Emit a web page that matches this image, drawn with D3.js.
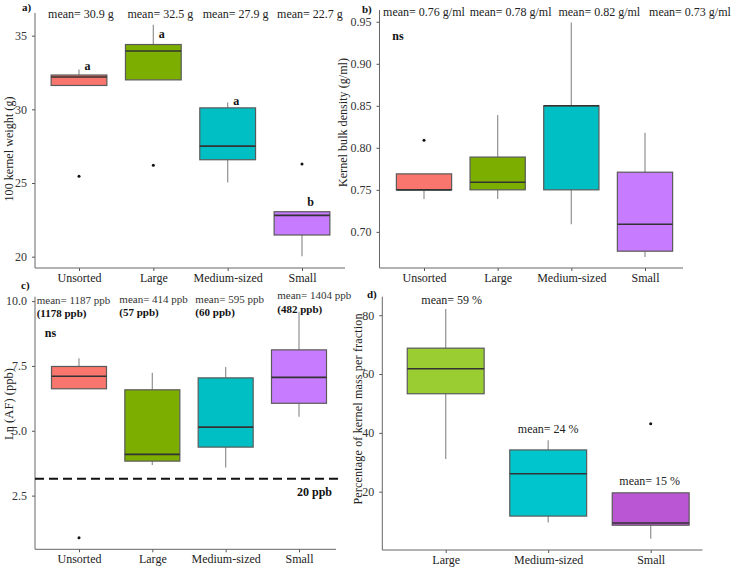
<!DOCTYPE html>
<html>
<head>
<meta charset="utf-8">
<script src="https://cdn.jsdelivr.net/npm/d3@7"></script>
<style>
  html, body { margin: 0; padding: 0; background: #fff; }
  svg { display: block; font-family: "Liberation Serif", "Times New Roman", serif; }
</style>
</head>
<body>
<svg id="chart" width="740" height="568"></svg>
<script>
// ---------------- DATA ----------------
const categories = ["Unsorted", "Large", "Medium-sized", "Small"];
const categoriesD = ["Large", "Medium-sized", "Small"];

// a) 100 kernel weight (g)
const weightLow  = [31.62, 32.00, 25.04, 20.02];
const weightQ1   = [31.62, 32.00, 26.58, 21.47];
const weightMed  = [32.20, 33.96, 27.50, 22.80];
const weightQ3   = [32.33, 34.40, 30.10, 23.05];
const weightHigh = [32.70, 35.75, 30.47, 23.10];
const weightOut  = [[25.45], [26.20], [], [26.29]];
const weightMeans = ["mean= 30.9 g", "mean= 32.5 g", "mean= 27.9 g", "mean= 22.7 g"];
const weightLetters = ["a", "a", "a", "b"];
const weightLetterVal = [32.64, 34.84, 30.32, 23.46];
const weightTicks = [20, 25, 30, 35];

// b) Kernel bulk density (g/ml)
const densLow  = [0.739, 0.739, 0.709, 0.670];
const densQ1   = [0.750, 0.750, 0.750, 0.677];
const densMed  = [0.750, 0.759, 0.850, 0.709];
const densQ3   = [0.769, 0.789, 0.850, 0.771];
const densHigh = [0.769, 0.839, 0.949, 0.818];
const densOut  = [[0.809], [], [], []];
const densMeans = ["mean= 0.76 g/ml", "mean= 0.78 g/ml", "mean= 0.82 g/ml", "mean= 0.73 g/ml"];
const densTicks = [0.70, 0.75, 0.80, 0.85, 0.90, 0.95];

// c) Ln (AF) (ppb)
const afLow  = [6.62, 3.68, 3.58, 5.54];
const afQ1   = [6.62, 3.83, 4.37, 6.06];
const afMed  = [7.10, 4.09, 5.14, 7.06];
const afQ3   = [7.48, 6.58, 7.04, 8.12];
const afHigh = [7.80, 7.24, 7.46, 9.59];
const afOut  = [[0.88], [], [], []];
const afMeans = ["mean= 1187 ppb", "mean= 414 ppb", "mean= 595 ppb", "mean= 1404 ppb"];
const afMedians = ["(1178 ppb)", "(57 ppb)", "(60 ppb)", "(482 ppb)"];
const afLimit = 3.15;
const afLimitLabel = "20 ppb";
const afTicks = [2.5, 5.0, 7.5, 10.0];

// d) Percentage of kernel mass per fraction
const massLow  = [31.1, 9.5, 4.0];
const massQ1   = [53.3, 11.7, 8.6];
const massMed  = [61.8, 26.1, 9.35];
const massQ3   = [68.8, 34.2, 19.6];
const massHigh = [82.1, 37.5, 19.6];
const massOut  = [[], [], [43.1]];
const massMeans = ["mean= 59 %", "mean= 24 %", "mean= 15 %"];
const massTicks = [20, 40, 60, 80];

// ---------------- STYLE ----------------
const colorsABC = ["#F8766D", "#7CAE00", "#00BFC4", "#C77CFF"];
const colorsD = ["#9ACD32", "#00C5CD", "#BA55D3"];
const FONT = "'Liberation Serif', 'Times New Roman', serif";

const svg = d3.select("#chart");
svg.append("rect").attr("width", 740).attr("height", 568).attr("fill", "#fff");

function makeBoxes(v) {
  return v.cats.map((c, i) => ({
    cat: c, low: v.low[i], q1: v.q1[i], med: v.med[i], q3: v.q3[i], high: v.high[i],
    out: v.out[i], color: v.colors[i]
  }));
}

function drawPanel(p) {
  const g = svg.append("g").attr("font-family", FONT);
  const x = d3.scalePoint().domain(p.cats).range(p.xRange);
  const y = d3.scaleLinear().domain(p.yDomain).range(p.yRange);
  const step = x.step();
  const bw = step * 0.75;

  // axes
  const ya = g.append("g").attr("transform", `translate(${p.axisX},0)`)
    .call(d3.axisLeft(y).tickValues(p.ticks).tickFormat(p.fmt).tickSize(3).tickPadding(5));
  ya.attr("font-family", FONT);
  ya.select(".domain").remove();
  ya.selectAll(".tick line").attr("stroke", "#555");
  ya.selectAll(".tick text").attr("fill", "#333").attr("font-size", 12);
  g.append("line").attr("x1", p.axisX).attr("x2", p.axisX)
    .attr("y1", p.yRange[1]).attr("y2", p.yRange[0]).attr("stroke", "#666").attr("stroke-width", 1);

  const xa = g.append("g").attr("transform", `translate(0,${p.yRange[0]})`)
    .call(d3.axisBottom(x).tickSize(3).tickPadding(2.5));
  xa.attr("font-family", FONT);
  xa.select(".domain").remove();
  xa.selectAll(".tick line").attr("stroke", "#555");
  xa.selectAll(".tick text").attr("fill", "#222").attr("font-size", 12);
  g.append("line").attr("x1", p.axisX).attr("x2", p.axisXEnd)
    .attr("y1", p.yRange[0]).attr("y2", p.yRange[0]).attr("stroke", "#666").attr("stroke-width", 1);

  // boxes
  const boxes = makeBoxes(p);
  const bg = g.selectAll(".box").data(boxes).join("g");
  bg.append("line")
    .attr("x1", d => x(d.cat)).attr("x2", d => x(d.cat))
    .attr("y1", d => y(d.high)).attr("y2", d => y(d.q3))
    .attr("stroke", "#999").attr("stroke-width", 1.3);
  bg.append("line")
    .attr("x1", d => x(d.cat)).attr("x2", d => x(d.cat))
    .attr("y1", d => y(d.q1)).attr("y2", d => y(d.low))
    .attr("stroke", "#999").attr("stroke-width", 1.3);
  bg.append("rect")
    .attr("x", d => x(d.cat) - bw / 2).attr("width", bw)
    .attr("y", d => y(d.q3)).attr("height", d => Math.max(0.5, y(d.q1) - y(d.q3)))
    .attr("fill", d => d.color).attr("stroke", "#5a5a5a").attr("stroke-width", 1.2);
  bg.append("line")
    .attr("x1", d => x(d.cat) - bw / 2).attr("x2", d => x(d.cat) + bw / 2)
    .attr("y1", d => y(d.med)).attr("y2", d => y(d.med))
    .attr("stroke", "#333").attr("stroke-width", 1.6);
  bg.selectAll("circle").data(d => d.out.map(v => ({ cat: d.cat, v })))
    .join("circle").attr("cx", d => x(d.cat)).attr("cy", d => y(d.v))
    .attr("r", 1.5).attr("fill", "#111");

  // axis title
  g.append("text")
    .attr("transform", `translate(${p.titleX},${p.titleY}) rotate(-90)`)
    .attr("text-anchor", "middle").attr("font-size", p.titleSize || 12).attr("fill", "#222")
    .attr("textLength", p.titleLen).attr("lengthAdjust", "spacing")
    .text(p.title);

  // panel label
  g.append("text").attr("x", p.labX).attr("y", p.labY)
    .attr("font-size", 11).attr("font-weight", "bold").attr("fill", "#111").text(p.label);

  return { g, x, y };
}

// ---------- Panel a ----------
const A = drawPanel({
  cats: categories, low: weightLow, q1: weightQ1, med: weightMed, q3: weightQ3, high: weightHigh,
  out: weightOut, colors: colorsABC,
  xRange: [79, 302], yDomain: [19.23, 36.54], yRange: [268, 13],
  axisX: 35, axisXEnd: 345, ticks: weightTicks, fmt: d3.format("d"),
  title: "100 kernel weight (g)", titleX: 12.5, titleY: 149, titleLen: 105,
  label: "a)", labX: 22, labY: 11
});
const meanDxA = [2, 7, 8, 8];
A.g.selectAll(".mean").data(weightMeans).join("text")
  .attr("x", (d, i) => A.x(categories[i]) + meanDxA[i]).attr("y", 17.5)
  .attr("text-anchor", "middle").attr("font-size", 12).attr("fill", "#222").text(d => d);
A.g.selectAll(".letter").data(weightLetters).join("text")
  .attr("x", (d, i) => A.x(categories[i]) + 8.5).attr("y", (d, i) => A.y(weightLetterVal[i]))
  .attr("text-anchor", "middle").attr("font-size", 12).attr("font-weight", "bold")
  .attr("fill", "#111").text(d => d);

// ---------- Panel b ----------
const B = drawPanel({
  cats: categories, low: densLow, q1: densQ1, med: densMed, q3: densQ3, high: densHigh,
  out: densOut, colors: colorsABC,
  xRange: [424, 645], yDomain: [0.657, 0.964], yRange: [268, 10],
  axisX: 379.5, axisXEnd: 683, ticks: densTicks, fmt: d3.format(".2f"),
  title: "Kernel bulk density (g/ml)", titleX: 347, titleY: 122.5, titleLen: 129,
  label: "b)", labX: 362, labY: 13
});
const meanDxB = [0, 13, 28, 45];
B.g.selectAll(".mean").data(densMeans).join("text")
  .attr("x", (d, i) => B.x(categories[i]) + meanDxB[i]).attr("y", 16)
  .attr("text-anchor", "middle").attr("font-size", 12).attr("fill", "#222").text(d => d);
B.g.append("text").attr("x", 398).attr("y", 40).attr("text-anchor", "middle")
  .attr("font-size", 12).attr("font-weight", "bold").attr("fill", "#111").text("ns");

// ---------- Panel c ----------
const C = drawPanel({
  cats: categories, low: afLow, q1: afQ1, med: afMed, q3: afQ3, high: afHigh,
  out: afOut, colors: colorsABC,
  xRange: [79, 299], yDomain: [0.43, 10.17], yRange: [549.3, 296.7],
  axisX: 35, axisXEnd: 336, ticks: afTicks, fmt: d3.format(".1f"),
  title: "Ln (AF) (ppb)", titleX: 12.5, titleY: 404, titleLen: 72, titleSize: 12.5,
  label: "c)", labX: 21, labY: 289
});
C.g.append("line")
  .attr("x1", 35).attr("x2", 343)
  .attr("y1", C.y(afLimit)).attr("y2", C.y(afLimit))
  .attr("stroke", "#111").attr("stroke-width", 2).attr("stroke-dasharray", "9,5");
C.g.append("text").attr("x", 297).attr("y", C.y(afLimit) + 17)
  .attr("font-size", 12).attr("font-weight", "bold").attr("fill", "#111").text(afLimitLabel);
const meanDxC = [-42.3, -33, -30.3, -21.7];
const meanDyC = [304, 302.7, 302.7, 299.3];
C.g.selectAll(".mean").data(afMeans).join("text")
  .attr("x", (d, i) => C.x(categories[i]) + meanDxC[i]).attr("y", (d, i) => meanDyC[i])
  .attr("font-size", 11).attr("fill", "#333").text(d => d);
C.g.selectAll(".med").data(afMedians).join("text")
  .attr("x", (d, i) => C.x(categories[i]) + meanDxC[i]).attr("y", (d, i) => meanDyC[i] + 13.3)
  .attr("font-size", 11).attr("font-weight", "bold").attr("fill", "#111").text(d => d);
C.g.append("text").attr("x", 50.5).attr("y", 337).attr("text-anchor", "middle")
  .attr("font-size", 12).attr("font-weight", "bold").attr("fill", "#111").text("ns");

// ---------- Panel d ----------
const D = drawPanel({
  cats: categoriesD, low: massLow, q1: massQ1, med: massMed, q3: massQ3, high: massHigh,
  out: massOut, colors: colorsD,
  xRange: [445.7, 650.7], yDomain: [0.17, 86.3], yRange: [550, 296.7],
  axisX: 382.3, axisXEnd: 702.5, ticks: massTicks, fmt: d3.format("d"),
  title: "Percentage of  kernel mass per fraction", titleX: 362, titleY: 409, titleLen: 191,
  label: "d)", labX: 367, labY: 298
});
const meanYD = [304, 432.7, 484.7];
const meanDxD = [6, 0, -1];
D.g.selectAll(".mean").data(massMeans).join("text")
  .attr("x", (d, i) => D.x(categoriesD[i]) + meanDxD[i]).attr("y", (d, i) => meanYD[i])
  .attr("text-anchor", "middle").attr("font-size", 12).attr("fill", "#222").text(d => d);
</script>
</body>
</html>
